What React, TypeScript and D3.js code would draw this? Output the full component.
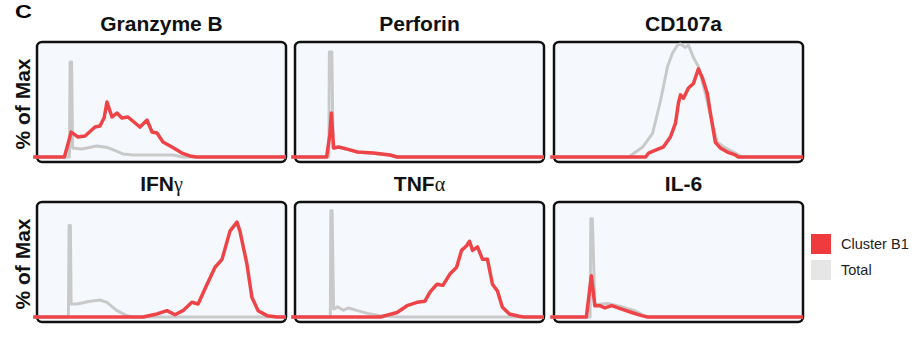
import React, { useEffect, useRef } from "react";
import * as d3 from "d3";

type Pt = [number, number];

// channel position (0-100) vs % of max
const granzymeRed: Pt[] = [[-1.5, 0], [11, 0], [12, 8], [13.7, 22], [15, 20], [16.5, 17.7], [19.3, 18.6], [23.3, 26.5], [25.3, 27.4], [27, 35], [28.1, 48.7], [30.1, 35.4], [32.1, 38.9], [34.1, 34.5], [36.5, 35.4], [39.4, 30.1], [41.4, 26.5], [44.2, 32.7], [46.2, 22.1], [48.2, 21.2], [50.6, 13.3], [54.2, 8.8], [58.2, 3.5], [61.4, 0.9], [64, 0], [100, 0]];
const granzymeGray: Pt[] = [[-1.5, 0], [13, 0], [13.3, 84], [13.9, 84], [14.3, 8], [18, 7], [24.1, 9.7], [28.1, 8.5], [31, 6], [34.5, 2.7], [38.6, 1.8], [45.4, 1.8], [54.6, 1.8], [58.6, 0], [100, 0]];

const perforinRed: Pt[] = [[-1.5, 0], [12.7, 0], [14, 20], [14.6, 39], [15.5, 8], [17.5, 8.8], [21, 7], [25.1, 4.4], [31.5, 3.5], [38.2, 1.8], [41, 0], [100, 0]];
const perforinGray: Pt[] = [[-1.5, 0], [13.6, 0], [13.8, 93], [14.8, 93], [15.3, 8], [17.5, 8.5], [25, 4.5], [31.5, 3], [38, 1.5], [41, 0], [100, 0]];

const cd107Red: Pt[] = [[-1.5, 0], [36.8, 0], [38, 3.5], [40.8, 6], [44, 9], [46.8, 18], [48.8, 30], [50, 48], [50.8, 55], [52, 52], [54, 61], [56, 65], [58, 78], [59.6, 70], [61.6, 56], [62.8, 39], [64.8, 13], [66.8, 8], [69.6, 4.4], [72.8, 1.8], [74, 0], [100, 0]];
const cd107Gray: Pt[] = [[-1.5, 0], [30, 0], [35.6, 8.8], [39.6, 21], [42.8, 50], [45.6, 80], [47.6, 92], [49.6, 99], [50.8, 100], [52.8, 97], [54, 99], [56, 88], [58, 80], [60.8, 56], [63.6, 30], [65.6, 13], [68.8, 8], [72.8, 3.5], [75.6, 0], [100, 0]];

const ifngRed: Pt[] = [[-1.5, 0], [42.6, 0], [48.2, 2.7], [52.2, 5.6], [55.4, 2], [58.6, 5.6], [62.2, 13], [64.7, 11.5], [68.3, 29], [71.5, 44], [74.3, 51], [77.5, 76], [80.3, 84], [81.5, 76], [84.3, 47], [86.3, 17.4], [88.8, 5.6], [92.4, 1.2], [96.4, 0], [100, 0]];
const ifngGray: Pt[] = [[-1.5, 0], [12.6, 0], [12.9, 81], [13.4, 81], [13.7, 11.5], [16.1, 11.5], [21.3, 13.9], [25.3, 15], [28.1, 13], [32.1, 5.6], [36.1, 1.2], [38.6, 0], [100, 0]];

const tnfRed: Pt[] = [[-1.5, 0], [34.3, 0], [41, 4], [45, 10], [49, 13], [52.2, 14], [54.2, 22], [57, 29], [59.4, 28], [62.2, 38], [64.9, 44], [66.9, 59], [68.9, 63], [70.1, 67], [71.3, 59], [73.3, 62], [75.3, 51], [77.3, 51], [79.3, 29], [81.3, 23], [83.3, 8.6], [86.1, 2.7], [90, 0.6], [92, 0], [100, 0]];
const tnfGray: Pt[] = [[-1.5, 0], [14.2, 0], [14.4, 94], [14.9, 94], [15.5, 7], [17.1, 9], [19.5, 6], [21.5, 8], [25.1, 5.6], [29.1, 3.2], [34.3, 1.2], [38.2, 0.5], [42, 0], [100, 0]];

const il6Red: Pt[] = [[-1.5, 0], [13, 0], [15, 36.5], [16.4, 10], [18.4, 10], [20.4, 8], [23.2, 10], [27.2, 7], [31.2, 4], [35.2, 1.2], [37.6, 0], [100, 0]];
const il6Gray: Pt[] = [[-1.5, 0], [14.5, 0], [14.8, 87], [15.4, 87], [16.4, 11], [21.6, 12], [27.2, 9], [32.4, 5.6], [36.4, 1], [38.5, 0], [100, 0]];

const titles = ["Granzyme B", "Perforin", "CD107a", "IFN|γ", "TNF|α", "IL-6"];
const redSeries = [granzymeRed, perforinRed, cd107Red, ifngRed, tnfRed, il6Red];
const graySeries = [granzymeGray, perforinGray, cd107Gray, ifngGray, tnfGray, il6Gray];
const legendLabels = ["Cluster B1", "Total"];

const RED = "#ee4447";
const GRAY = "#c9c9c9";

export default function App() {
  const ref = useRef<SVGSVGElement>(null);

  useEffect(() => {
    const svg = d3.select(ref.current);
    svg.selectAll("*").remove();

    const colX = [37, 295, 554];
    const rowY = [42, 202];
    const w = 249;
    const h = 120;

    // panel letter, drawn a bit wide like the original
    svg.append("text")
      .attr("transform", "translate(15, 17.5) scale(1.3, 1)")
      .attr("font-family", "Liberation Sans, Arial, sans-serif")
      .attr("font-weight", "bold").attr("font-size", 18)
      .text("C");

    titles.forEach((title, i) => {
      const x0 = colX[i % 3];
      const y0 = rowY[Math.floor(i / 3)];
      const x = d3.scaleLinear().domain([0, 100]).range([x0, x0 + w]);
      const y = d3.scaleLinear().domain([0, 100]).range([y0 + h - 5, y0 + 2]);
      const g = svg.append("g");

      g.append("rect")
        .attr("x", x0).attr("y", y0)
        .attr("width", w).attr("height", h)
        .attr("rx", 5).attr("ry", 5)
        .attr("fill", "#f5f9fe")
        .attr("stroke", "#111").attr("stroke-width", 2.5);

      const line = d3.line<Pt>().x(d => x(d[0])).y(d => y(d[1]));

      g.append("path").attr("d", line(graySeries[i]))
        .attr("fill", "none").attr("stroke", GRAY).attr("stroke-width", 3)
        .attr("stroke-linejoin", "round");
      g.append("path").attr("d", line(redSeries[i]))
        .attr("fill", "none").attr("stroke", RED).attr("stroke-width", 3.5)
        .attr("stroke-linejoin", "round");

      const [main, greek] = title.split("|");
      const t = g.append("text")
        .attr("x", x0 + w / 2 + (i % 3 === 2 ? 5 : 0)).attr("y", y0 - 11)
        .attr("text-anchor", "middle")
        .attr("font-family", "Liberation Sans, Arial, sans-serif")
        .attr("font-weight", "bold").attr("font-size", 21)
        .attr("fill", "#111");
      t.append("tspan").text(main);
      if (greek) {
        t.append("tspan")
          .attr("font-family", "Liberation Serif, serif")
          .attr("font-weight", "normal")
          .attr("font-size", 20)
          .text(greek);
      }
    });

    rowY.forEach(y0 => {
      svg.append("text")
        .attr("transform", `translate(30, ${y0 + 62}) rotate(-90)`)
        .attr("text-anchor", "middle")
        .attr("font-family", "Liberation Sans, Arial, sans-serif")
        .attr("font-weight", "bold").attr("font-size", 21)
        .attr("fill", "#111")
        .text("% of Max");
    });

    const legendColors = ["#ef3b3d", "#e6e6e6"];
    legendLabels.forEach((lab, i) => {
      const ly = 234 + i * 26;
      svg.append("rect").attr("x", 811).attr("y", ly)
        .attr("width", 20).attr("height", 20)
        .attr("fill", legendColors[i]);
      svg.append("text").attr("x", 841).attr("y", ly + 15)
        .attr("font-family", "Liberation Sans, Arial, sans-serif")
        .attr("font-size", 14.5).attr("fill", "#222")
        .text(lab);
    });
  }, []);

  return (
    <svg ref={ref} width={914} height={339}
      style={{ position: "absolute", left: 0, top: 0, background: "#fff" }} />
  );
}
